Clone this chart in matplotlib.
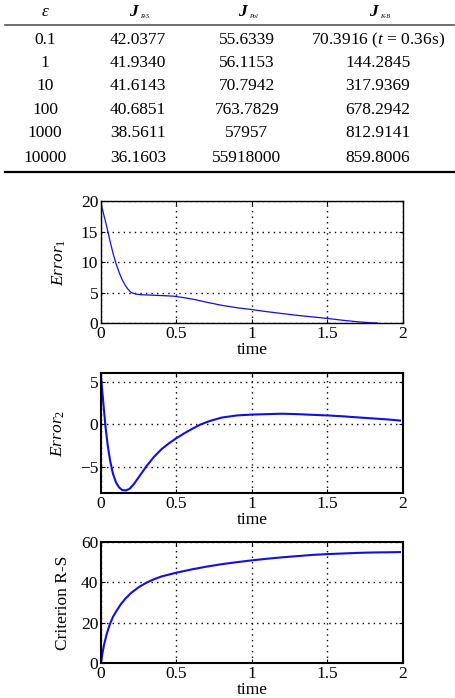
import numpy as np
import matplotlib.pyplot as plt

plt.rcParams['font.family'] = ['Liberation Serif', 'DejaVu Serif']
plt.rcParams['mathtext.fontset'] = 'custom'
plt.rcParams['mathtext.rm'] = 'Liberation Serif'
plt.rcParams['mathtext.it'] = 'Liberation Serif:italic'
plt.rcParams['font.size'] = 12.5

# table data
eps = ["0.1", "1", "10", "100", "1000", "10000"]
j_rs = ["42.0377", "41.9340", "41.6143", "40.6851", "38.5611", "36.1603"]
j_pol = ["55.6339", "56.1153", "70.7942", "763.7829", "57957", "55918000"]
j_kb = [r"70.3916 ($t$ = 0.36s)", "144.2845", "317.9369", "678.2942", "812.9141", "859.8006"]
subs = ["R-S", "Pol", "K-B"]

# curves
t1 = [0, 0.02, 0.04, 0.06, 0.08, 0.10, 0.12, 0.14, 0.16, 0.18, 0.20, 0.23, 0.26, 0.30,
      0.35, 0.40, 0.48, 0.55, 0.62, 0.70, 0.80, 0.90, 1.00, 1.10, 1.20, 1.30, 1.40,
      1.50, 1.60, 1.70, 1.78, 1.83]
err1 = [19.6, 17.6, 15.6, 13.4, 11.4, 9.7, 8.3, 7.1, 6.2, 5.5, 5.0, 4.75, 4.65, 4.6,
        4.55, 4.5, 4.4, 4.15, 3.85, 3.4, 2.9, 2.5, 2.2, 1.85, 1.55, 1.25, 1.0,
        0.75, 0.45, 0.2, 0.05, 0.0]

t2 = [0, 0.01, 0.02, 0.03, 0.045, 0.06, 0.08, 0.10, 0.12, 0.14, 0.165, 0.19, 0.22,
      0.26, 0.30, 0.35, 0.40, 0.45, 0.50, 0.55, 0.60, 0.66, 0.72, 0.80, 0.90, 1.00,
      1.10, 1.20, 1.30, 1.40, 1.50, 1.60, 1.70, 1.80, 1.90, 1.98]
err2 = [5.6, 3.6, 1.6, -0.3, -2.5, -4.2, -5.8, -6.8, -7.35, -7.65, -7.7, -7.5, -6.9,
        -5.9, -4.9, -3.8, -2.9, -2.2, -1.6, -1.05, -0.55, 0.0, 0.4, 0.8, 1.05, 1.15,
        1.2, 1.25, 1.2, 1.12, 1.05, 0.95, 0.82, 0.7, 0.58, 0.45]

t3 = [0, 0.01, 0.02, 0.04, 0.06, 0.08, 0.10, 0.13, 0.16, 0.20, 0.25, 0.30, 0.35, 0.40,
      0.50, 0.60, 0.70, 0.80, 0.90, 1.00, 1.10, 1.20, 1.30, 1.40, 1.50, 1.60, 1.70,
      1.80, 1.90, 1.98]
crit = [0, 5, 9, 15, 19.5, 23, 25.5, 29, 31.8, 34.8, 37.6, 39.8, 41.5, 42.9,
        44.8, 46.4, 47.8, 49, 50, 50.9, 51.7, 52.4, 53, 53.6, 54, 54.3, 54.6,
        54.8, 54.9, 55]

fig = plt.figure(figsize=(4.56, 6.98), dpi=100)
W, H = 456.0, 698.0

def fy(py):
    return 1 - py / H

colx = [45, 138, 247, 378]
fig.text(colx[0] / W, fy(12), r"$\varepsilon$", ha='center', va='center', fontsize=12.5)
for i in range(3):
    fig.text(colx[i + 1] / W, fy(12), "J", ha='right', va='center', fontsize=12.5,
             fontstyle='italic', fontweight='bold')
    fig.text((colx[i + 1] + 2) / W, fy(16), subs[i], ha='left', va='center', fontsize=4.5,
             fontstyle='italic')
fig.add_artist(plt.Line2D([0.01, 0.995], [fy(25), fy(25)], color='#555555', lw=1.2))
fig.add_artist(plt.Line2D([0.01, 0.995], [fy(172), fy(172)], color='black', lw=1.6))
rowy = [40, 63, 86, 110, 133, 158]
for r in range(len(eps)):
    vals = [eps[r], j_rs[r], j_pol[r], j_kb[r]]
    for c in range(4):
        fig.text(colx[c] / W, fy(rowy[r]), vals[c], ha='center', va='center', fontsize=12.5)

def style(ax, ylim, yt, lw_frame):
    ax.set_xlim(0, 2)
    ax.set_ylim(*ylim)
    ax.set_xticks([0, 0.5, 1, 1.5, 2])
    ax.set_xticklabels(["0", "0.5", "1", "1.5", "2"])
    ax.set_yticks(yt)
    ax.grid(True, color='black', linestyle=(0, (1, 3)), linewidth=1.0)
    ax.tick_params(direction='in', top=True, right=True, length=3, labelsize=12.5, pad=2)
    for s in ax.spines.values():
        s.set_linewidth(lw_frame)
    ax.set_xlabel("time", fontsize=12.5, labelpad=0)

ax1 = fig.add_axes([101 / W, fy(323), 302 / W, 122 / H])
ax1.plot(t1, err1, color='#1010e0', lw=0.9)
style(ax1, (0, 20), [0, 5, 10, 15, 20], 1.0)
ax1.set_ylabel(r"$Error_1$", fontsize=12.5, labelpad=9)

ax2 = fig.add_axes([101 / W, fy(493), 302 / W, 120 / H])
ax2.plot(t2, err2, color='#1010e0', lw=1.5)
style(ax2, (-8, 6), [-5, 0, 5], 1.5)
ax2.set_yticklabels(["\u22125", "0", "5"])
ax2.set_ylabel(r"$Error_2$", fontsize=12.5, labelpad=9)

ax3 = fig.add_axes([101 / W, fy(663), 302 / W, 121 / H])
ax3.plot(t3, crit, color='#1010e0', lw=1.5)
style(ax3, (0, 60), [0, 20, 40, 60], 1.5)
ax3.set_ylabel("Criterion R-S", fontsize=12.5, labelpad=7)

fig.savefig("out.png", dpi=100)
